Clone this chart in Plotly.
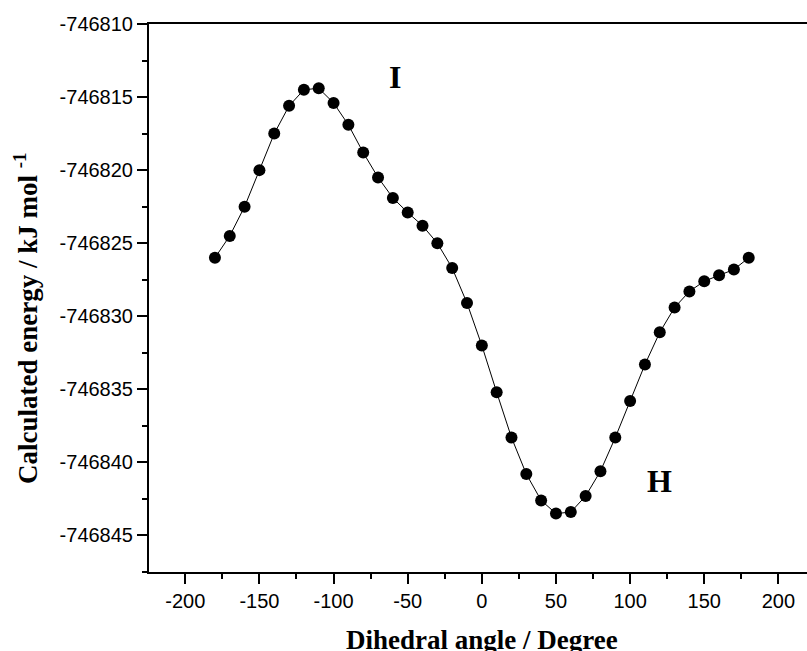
import plotly.graph_objects as go

# Data
angles = list(range(-180, 181, 10))
energy = [
    -746826.0, -746824.5, -746822.5, -746820.0, -746817.5, -746815.6, -746814.5,
    -746814.4, -746815.4, -746816.9, -746818.8, -746820.5, -746821.9, -746822.9,
    -746823.8, -746825.0, -746826.7, -746829.1, -746832.0, -746835.2, -746838.3,
    -746840.8, -746842.6, -746843.5, -746843.4, -746842.3, -746840.6, -746838.3,
    -746835.8, -746833.3, -746831.1, -746829.4, -746828.3, -746827.6, -746827.2,
    -746826.8, -746826.0,
]
x_ticks = [-200, -150, -100, -50, 0, 50, 100, 150, 200]
y_ticks = [-746845, -746840, -746835, -746830, -746825, -746820, -746815, -746810]
point_labels = ["I", "H"]
label_x = [-58.4, 119.9]
label_y = [-746813.6, -746841.3]

fig = go.Figure()
fig.add_trace(go.Scatter(
    x=angles, y=energy, mode="lines+markers",
    line=dict(color="black", width=1),
    marker=dict(color="black", size=12, line=dict(width=0)),
    showlegend=False,
))

W, H = 807, 651
L, R, T, B = 149, 0, 24, 79
pw = W - L - R
ph = H - T - B


def px_to_paper_x(px):
    return (px - L) / pw


def px_to_paper_y(py):
    return (H - B - py) / ph


fig.update_layout(
    width=W, height=H,
    margin=dict(l=L, r=R, t=T, b=B, pad=0, autoexpand=False),
    paper_bgcolor="white", plot_bgcolor="white",
    font=dict(family="Liberation Sans, Arial, sans-serif", size=20, color="black"),
)
fig.update_xaxes(
    range=[-224.47, 219.3], tickmode="array", tickvals=x_ticks,
    ticktext=[str(v) for v in x_ticks], automargin=False,
    showgrid=False, zeroline=False, showline=True, linecolor="black", linewidth=2,
    mirror=True, ticks="outside", ticklen=10, tickwidth=2, tickcolor="black",
    minor=dict(dtick=25, tick0=0, ticks="outside", ticklen=5, tickwidth=2, tickcolor="black"),
)
fig.update_yaxes(
    range=[-746847.5, -746810], tickmode="array", tickvals=y_ticks,
    ticktext=[str(v) for v in y_ticks], automargin=False,
    showgrid=False, zeroline=False, showline=True, linecolor="black", linewidth=2,
    ticks="outside", ticklen=10, tickwidth=2, tickcolor="black",
    minor=dict(dtick=2.5, tick0=-746810, ticks="outside", ticklen=5, tickwidth=2, tickcolor="black"),
)

serif = "Liberation Serif, Times New Roman, serif"
for t, x, y in zip(point_labels, label_x, label_y):
    fig.add_annotation(x=x, y=y, xref="x", yref="y", text="<b>%s</b>" % t,
                       showarrow=False, font=dict(family=serif, size=32, color="black"),
                       xanchor="center", yanchor="middle")

fig.add_annotation(
    x=px_to_paper_x(482), y=px_to_paper_y(640), xref="paper", yref="paper",
    text="<b>Dihedral angle / Degree</b>", showarrow=False,
    font=dict(family=serif, size=27, color="black"), xanchor="center", yanchor="middle",
)
fig.add_annotation(
    x=px_to_paper_x(26), y=px_to_paper_y(319), xref="paper", yref="paper",
    text="<b>Calculated energy / kJ mol <sup>-1</sup></b>", showarrow=False, textangle=-90,
    font=dict(family=serif, size=27, color="black"), xanchor="center", yanchor="middle",
)

fig.write_html(
    "out.html",
    config={"displayModeBar": False},
    post_script="document.documentElement.style.margin='0';document.body.style.margin='0';"
                "document.documentElement.style.overflow='hidden';document.body.style.overflow='hidden';",
)
